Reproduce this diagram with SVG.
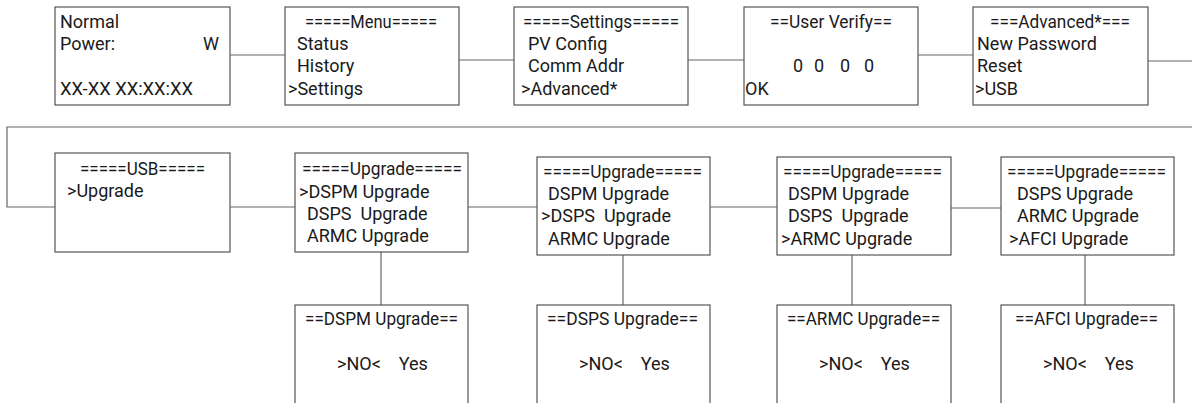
<svg xmlns="http://www.w3.org/2000/svg" width="1192" height="403" viewBox="0 0 1192 403">
<style>
.box{fill:#fff;stroke:#555;stroke-width:1.2}
.c{fill:none;stroke:#666;stroke-width:1.2}
text{font-family:Roboto,"Liberation Sans",sans-serif;font-size:18px;fill:#1a1a1a;white-space:pre}
</style>
<rect width="1192" height="403" fill="#fff"/>
<g id="connectors">
<path class="c" d="M230 55H285"/>
<path class="c" d="M459 60H514"/>
<path class="c" d="M688 60H744"/>
<path class="c" d="M918 55H973"/>
<path class="c" d="M1148 61H1192"/>
<path class="c" d="M1192 127H7V207H55"/>
<path class="c" d="M230 207H295"/>
<path class="c" d="M468 207H537"/>
<path class="c" d="M710 207H777"/>
<path class="c" d="M951 208H1001"/>
<path class="c" d="M381 252V305"/>
<path class="c" d="M623 255V305"/>
<path class="c" d="M852 255V305"/>
<path class="c" d="M1085 255V305"/>
</g>
<g id="n-home">
<rect class="box" x="55" y="7" width="175" height="98"/>
<text x="60" y="28">Normal</text>
<text x="60" y="50">Power:</text>
<text x="203" y="50">W</text>
<text x="60" y="95" textLength="133" lengthAdjust="spacingAndGlyphs">XX-XX XX:XX:XX</text>
</g>
<g id="n-menu">
<rect class="box" x="285" y="7" width="174" height="98"/>
<text x="305" y="28" textLength="132" lengthAdjust="spacingAndGlyphs">=====Menu=====</text>
<text x="297" y="50">Status</text>
<text x="297" y="72">History</text>
<text x="288" y="95">&gt;Settings</text>
</g>
<g id="n-settings">
<rect class="box" x="514" y="7" width="174" height="98"/>
<text x="523" y="28" textLength="156" lengthAdjust="spacingAndGlyphs">=====Settings=====</text>
<text x="528" y="50">PV Config</text>
<text x="528" y="72">Comm Addr</text>
<text x="521" y="95">&gt;Advanced*</text>
</g>
<g id="n-verify">
<rect class="box" x="744" y="7" width="174" height="98"/>
<text x="770" y="28" textLength="122" lengthAdjust="spacingAndGlyphs">==User Verify==</text>
<text y="72"><tspan x="793">0</tspan><tspan x="814">0</tspan><tspan x="840">0</tspan><tspan x="864">0</tspan></text>
<text x="745" y="95">OK</text>
</g>
<g id="n-advanced">
<rect class="box" x="973" y="7" width="175" height="98"/>
<text x="990" y="28" textLength="140" lengthAdjust="spacingAndGlyphs">===Advanced*===</text>
<text x="977" y="50">New Password</text>
<text x="977" y="72">Reset</text>
<text x="975" y="95">&gt;USB</text>
</g>
<g id="n-usb">
<rect class="box" x="55" y="153" width="175" height="99"/>
<text x="80" y="175" textLength="125" lengthAdjust="spacingAndGlyphs">=====USB=====</text>
<text x="67" y="197">&gt;Upgrade</text>
</g>
<g id="n-up1">
<rect class="box" x="295" y="153" width="173" height="99"/>
<text x="302" y="175" textLength="160" lengthAdjust="spacingAndGlyphs">=====Upgrade=====</text>
<text x="299" y="198">&gt;DSPM Upgrade</text>
<text x="307" y="220">DSPS  Upgrade</text>
<text x="307" y="242">ARMC Upgrade</text>
</g>
<g id="n-up2">
<rect class="box" x="537" y="157" width="173" height="98"/>
<text x="543" y="178" textLength="159" lengthAdjust="spacingAndGlyphs">=====Upgrade=====</text>
<text x="548" y="200">DSPM Upgrade</text>
<text x="541" y="222">&gt;DSPS  Upgrade</text>
<text x="548" y="245">ARMC Upgrade</text>
</g>
<g id="n-up3">
<rect class="box" x="777" y="157" width="174" height="98"/>
<text x="783" y="178" textLength="159" lengthAdjust="spacingAndGlyphs">=====Upgrade=====</text>
<text x="788" y="200">DSPM Upgrade</text>
<text x="788" y="222">DSPS  Upgrade</text>
<text x="781" y="245">&gt;ARMC Upgrade</text>
</g>
<g id="n-up4">
<rect class="box" x="1001" y="157" width="173" height="98"/>
<text x="1007" y="178" textLength="159" lengthAdjust="spacingAndGlyphs">=====Upgrade=====</text>
<text x="1017" y="200">DSPS Upgrade</text>
<text x="1017" y="222">ARMC Upgrade</text>
<text x="1009" y="245">&gt;AFCI Upgrade</text>
</g>
<g id="n-dspm">
<rect class="box" x="295" y="305" width="173" height="110"/>
<text x="305" y="325" textLength="153" lengthAdjust="spacingAndGlyphs">==DSPM Upgrade==</text>
<text x="337" y="370">&gt;NO&lt;    Yes</text>
</g>
<g id="n-dsps">
<rect class="box" x="537" y="305" width="173" height="110"/>
<text x="547" y="325" textLength="151" lengthAdjust="spacingAndGlyphs">==DSPS Upgrade==</text>
<text x="579" y="370">&gt;NO&lt;    Yes</text>
</g>
<g id="n-armc">
<rect class="box" x="777" y="305" width="174" height="110"/>
<text x="787" y="325" textLength="153" lengthAdjust="spacingAndGlyphs">==ARMC Upgrade==</text>
<text x="819" y="370">&gt;NO&lt;    Yes</text>
</g>
<g id="n-afci">
<rect class="box" x="1001" y="305" width="173" height="110"/>
<text x="1015" y="325" textLength="143" lengthAdjust="spacingAndGlyphs">==AFCI Upgrade==</text>
<text x="1043" y="370">&gt;NO&lt;    Yes</text>
</g>
</svg>
